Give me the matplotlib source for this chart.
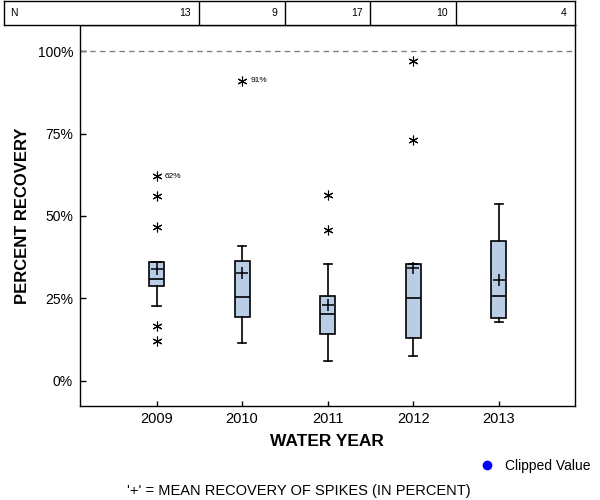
import matplotlib
matplotlib.use("Agg")
import matplotlib.pyplot as plt
from matplotlib.lines import Line2D

plt.rcParams['font.family'] = ['Liberation Sans', 'DejaVu Sans']

# ---- data ----
years = ['2009', '2010', '2011', '2012', '2013']
counts = [13, 9, 17, 10, 4]
q1 = [28.7, 19.3, 14.1, 12.9, 18.9]
med = [30.9, 25.4, 20.2, 25.1, 25.7]
q3 = [36.0, 36.3, 25.6, 35.3, 42.3]
whislo = [22.7, 11.4, 5.9, 7.4, 17.8]
whishi = [36.0, 41.0, 35.3, 35.3, 53.7]
means = [33.9, 32.7, 22.9, 34.1, 30.6]
fliers = [[62.0, 56.0, 46.8, 16.7, 12.0],
          [91.0],
          [56.3, 45.7],
          [97.0, 73.1],
          []]
label_idx = [0, 1]
label_vals = [62.0, 91.0]
label_txt = ['62%', '91%']
yticks = [0, 25, 50, 75, 100]
ytick_labels = ['0%', '25%', '50%', '75%', '100%']

W, H = 600, 500
fig = plt.figure(figsize=(6, 5), dpi=100)

px_per_unit = 85.6
x0 = 1 - 76.5 / px_per_unit
x1 = x0 + 495 / px_per_unit

ax = fig.add_axes([80 / W, 1 - 406 / H, 495 / W, 381 / H])
positions = list(range(1, len(years) + 1))
stats = []
for i in range(len(years)):
    stats.append(dict(q1=q1[i], med=med[i], q3=q3[i], whislo=whislo[i],
                      whishi=whishi[i], mean=means[i], fliers=fliers[i],
                      label=years[i]))

box_color = '#B9CEE6'
ax.bxp(stats, positions=positions, widths=0.175, patch_artist=True,
       showmeans=True, showfliers=True,
       boxprops=dict(facecolor=box_color, edgecolor='black', linewidth=1.2),
       medianprops=dict(color='black', linewidth=1.2),
       whiskerprops=dict(color='black', linewidth=1.2),
       capprops=dict(color='black', linewidth=1.2),
       capwidths=0.095,
       meanprops=dict(marker='+', markeredgecolor='black', markersize=8,
                      markeredgewidth=1.1, linestyle='none'),
       flierprops=dict(marker=(6, 2, 0), markeredgecolor='black',
                       markerfacecolor='black', markersize=7,
                       markeredgewidth=0.8, linestyle='none'))

for i, v, t in zip(label_idx, label_vals, label_txt):
    ax.text(positions[i] + 0.1, v, t, fontsize=6, va='center', ha='left')

ax.axhline(100, color='#808080', linestyle=(0, (4, 3)), linewidth=1)

ax.set_xlim(x0, x1)
ax.set_ylim(-7.7, 108.0)
ax.set_yticks(yticks)
ax.set_yticklabels(ytick_labels, fontsize=10)
ax.set_xticks(positions)
ax.set_xticklabels(years, fontsize=10.5)
ax.tick_params(axis='y', direction='in', length=4.3, width=1, pad=5)
ax.tick_params(axis='x', direction='in', length=3.6, width=1, pad=4)
for s in ax.spines.values():
    s.set_linewidth(1)
    s.set_color('black')

fig.text(23 / W, 1 - 216 / H, 'PERCENT RECOVERY', rotation=90, fontsize=12,
         fontweight='bold', ha='center', va='center')
fig.text(327 / W, 1 - 442 / H, 'WATER YEAR', fontsize=12.5,
         fontweight='bold', ha='center', va='center')

# N table
tax = fig.add_axes([4 / W, 1 - 25 / H, 571 / W, 24 / H])
tx0 = x0 - 76 / px_per_unit
tax.set_xlim(tx0, x1)
tax.set_ylim(0, 1)
tax.set_xticks([])
tax.set_yticks([])
for s in tax.spines.values():
    s.set_linewidth(1)
    s.set_color('black')
for p in positions[:-1]:
    tax.axvline(p + 0.5, color='black', linewidth=1)
tax.text(tx0 + 6 / px_per_unit, 0.5, 'N', fontsize=7.5, va='center', ha='left')
rights = [p + 0.5 for p in positions[:-1]] + [x1]
for r, c in zip(rights, counts):
    tax.text(r - 8 / px_per_unit, 0.5, str(c), fontsize=7.5, va='center', ha='right')

# legend
fig.add_artist(Line2D([487 / W], [1 - 465 / H], marker='o', color='blue',
                      markersize=6, linestyle='none', transform=fig.transFigure))
fig.text(505 / W, 1 - 466 / H, 'Clipped Value', fontsize=10, va='center', ha='left')

fig.text(299 / W, 1 - 491 / H, "'+' = MEAN RECOVERY OF SPIKES (IN PERCENT)",
         fontsize=10.5, ha='center', va='center')

fig.savefig('out.png', dpi=100)
